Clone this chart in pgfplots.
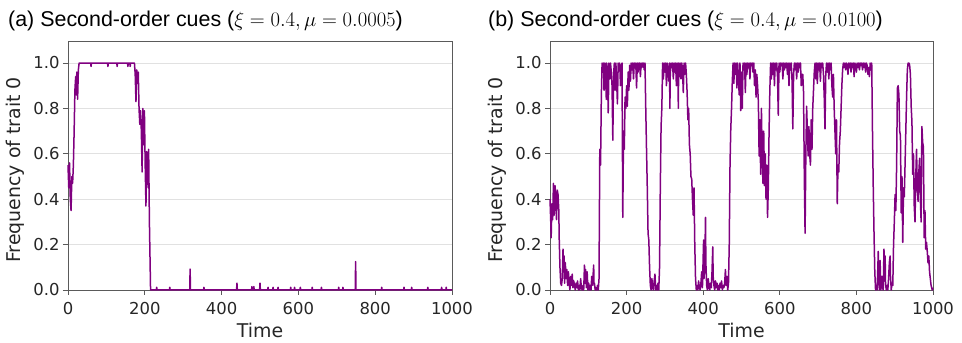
\documentclass[border=0pt]{standalone}
\usepackage[no-math]{fontspec}
\setmainfont{DejaVu Sans}
\newfontfamily\titlefont{Liberation Sans}
\usepackage{pgfplots}
\pgfplotsset{compat=1.18}
\definecolor{traitpurple}{RGB}{128,0,128}
\definecolor{spine}{RGB}{90,90,90}
\definecolor{gridc}{RGB}{225,225,225}
\definecolor{txt}{RGB}{38,38,38}
\pgfplotsset{freqax/.style={
 scale only axis, width=384bp, height=249bp,
 xmin=0,xmax=1000,ymin=0,ymax=1.097,
 xtick={0,200,400,600,800,1000}, xticklabels={0,200,400,600,800,1000},
 ytick={0,0.2,0.4,0.6,0.8,1.0}, yticklabels={0.0,0.2,0.4,0.6,0.8,1.0},
 tick pos=left, tick align=outside, major tick length=5bp,
 ymajorgrids, major grid style={gridc, line width=0.8bp},
 axis line style={spine, line width=0.9bp},
 tick style={spine, line width=0.9bp},
 ticklabel style={font=\fontsize{16.5}{18}\selectfont, text=txt},
 xticklabel style={yshift=-4bp},
 label style={font=\fontsize{19}{21}\selectfont, text=txt},
 xlabel={Time}, ylabel={Frequency of trait 0},
 xlabel style={at={(axis description cs:0.5,0)}, anchor=base, yshift=-47bp},
 ylabel style={at={(axis description cs:-0.138,0.482)}, anchor=center},
 clip=false,
}}
\tikzset{trait/.style={traitpurple, line width=1.5bp, line join=round, mark=none}}
\begin{document}
\begin{tikzpicture}
\useasboundingbox (0,0) rectangle (962bp,343bp);
\node[anchor=base west, inner sep=0] at (8bp,316bp) {\titlefont\fontsize{21.5}{24}\selectfont (a) Second-order cues ($\xi = 0.4, \mu = 0.0005$)};
\node[anchor=base west, inner sep=0] at (488bp,316bp) {\titlefont\fontsize{21.5}{24}\selectfont (b) Second-order cues ($\xi = 0.4, \mu = 0.0100$)};
\begin{axis}[freqax, at={(68bp,53bp)}, anchor=south west]
\addplot[trait] coordinates {
(0,0.55)(2,0.45)(4,0.56)(6,0.40)(8,0.35)(10,0.50)(12,0.47)(14,0.55)(16,0.70)(18,0.88)(20,0.94)(21,0.86)(23,0.96)(25,0.84)(27,0.97)(29,1.0)
(59,1.0)(60,0.985)(61,1.0)(103,1.0)(104,0.985)(105,1.0)(127,1.0)(128,0.985)(129,1.0)(155,1.0)(156,0.985)(157,1.0)(161,1.0)(162,0.985)(163,1.0)
(173,1.0)(175,0.95)(177,0.83)(179,0.97)(181,0.91)(183,0.96)(185,0.80)(187,0.73)(189,0.79)(191,0.70)(193,0.52)(195,0.80)(197,0.64)(199,0.79)(201,0.55)(203,0.37)(205,0.61)(207,0.58)(209,0.45)(210,0.62)(212,0.30)(215,0.0)
(230,0)(231,0.012)(232,0)(264,0)(265,0.012)(266,0)(317,0)(318,0.092)(319,0)(353,0)(354,0.012)(355,0)
(439,0)(440,0.03)(441,0)(478,0)(479,0.015)(480,0)(483,0)(484,0.015)(485,0)(499,0)(500,0.03)(501,0)
(520,0)(521,0.012)(522,0)(533,0)(534,0.012)(535,0)(546,0)(547,0.012)(548,0)(579,0)(580,0.012)(581,0)(589,0)(590,0.012)(591,0)(604,0)(605,0.012)(606,0)
(635,0)(636,0.012)(637,0)(659,0)(660,0.012)(661,0)(704,0)(705,0.012)(706,0)(715,0)(716,0.012)(717,0)(748,0)(749,0.125)(750,0)
(816,0)(817,0.012)(818,0)(874,0)(875,0.012)(876,0)(894,0)(895,0.012)(896,0)(936,0)(937,0.012)(938,0)(972,0)(973,0.012)(974,0)(984,0)(985,0.012)(986,0)(1000,0)
};
\end{axis}
\begin{axis}[freqax, width=383bp, at={(550bp,53bp)}, anchor=south west]
\addplot[trait] coordinates {
(0,0.40)(2,0.30)(3,0.23)(5,0.38)(7,0.31)(9,0.47)(11,0.33)(13,0.46)(15,0.42)(17,0.31)(19,0.44)(21,0.42)(23,0.35)(24,0.23)(26,0.10)(28,0.03)
(30,0.02)(32,0.05)(34,0.18)(35,0.08)(37,0.15)(38,0.03)(40,0.12)(42,0.05)(44,0.09)(46,0.02)(48,0.08)(50,0.03)(52,0.0)(54,0.06)(56,0.02)(58,0.07)(60,0.01)(62,0.04)(64,0.02)(66,0.0)(68,0.03)(70,0.01)(72,0.04)(74,0.0)(76,0.02)(78,0.0)(80,0.05)(82,0.01)(84,0.0)(86,0.02)(88,0.0)(90,0.11)(91,0.03)(93,0.09)(95,0.01)(97,0.08)(99,0.0)(101,0.03)(103,0.0)(105,0.02)(107,0.0)(109,0.06)(110,0.02)(112,0.05)(114,0.11)(115,0.02)(116,0.03)(118,0.0)(120,0.01)(122,0.0)(124,0.02)(126,0.0)
(128,0.05)(130,0.62)(132,0.55)(134,0.85)(136,1.0)
(138,0.96)(140,1.0)(141,0.88)(143,1.0)(145,0.95)(147,0.84)(148,1.0)(150,0.97)(152,0.78)(154,1.0)(156,0.93)(158,1.0)(160,0.96)(162,0.90)(164,0.66)(166,0.95)(168,1.0)(170,0.88)(172,1.0)(174,0.92)(176,0.82)(178,1.0)(180,0.97)(182,1.0)(184,0.90)(186,0.98)(188,1.0)(190,0.32)(192,0.70)(194,0.62)(196,0.85)(198,0.80)(200,0.90)(202,0.81)(204,0.96)(206,0.88)(208,0.99)(210,0.92)(212,1.0)(214,0.97)(216,1.0)(218,0.93)(220,1.0)(222,0.98)(224,1.0)(226,0.89)(228,1.0)(230,0.96)(232,1.0)(234,1.0)(236,0.94)(238,1.0)(240,0.98)(242,1.0)(244,1.0)(246,0.97)(248,1.0)(250,0.80)(252,0.62)(254,0.45)(256,0.25)(258,0.22)(260,0.10)(262,0.02)
(264,0.0)(266,0.05)(268,0.01)(270,0.0)(272,0.04)(274,0.07)(276,0.0)(278,0.02)(280,0.0)(282,0.03)(284,0.0)
(286,0.10)(288,0.45)(290,0.72)(292,0.80)(294,1.0)
(296,0.93)(298,1.0)(300,0.96)(302,1.0)(304,0.90)(306,1.0)(308,0.97)(310,0.92)(312,1.0)(313,0.80)(314,0.95)(316,1.0)(318,0.98)(320,1.0)(322,0.93)(324,1.0)(326,0.96)(328,1.0)(330,0.90)(332,1.0)(334,0.98)(335,0.80)(336,1.0)(338,0.94)(340,1.0)(342,0.93)(344,1.0)(346,0.97)(348,0.87)(350,1.0)(352,0.95)(354,1.0)
(356,0.95)(358,0.87)(360,0.75)(362,0.80)(364,0.64)(366,0.60)(368,0.50)(370,0.49)(372,0.40)(374,0.33)(376,0.45)(378,0.20)(380,0.05)(382,0.0)
(384,0.02)(386,0.0)(388,0.04)(390,0.01)(392,0.0)(394,0.03)(396,0.08)(398,0.01)(400,0.15)(401,0.22)(402,0.05)(404,0.10)(406,0.32)(407,0.12)(409,0.02)(411,0.0)(413,0.05)(415,0.02)(417,0.0)(419,0.03)(421,0.01)(423,0.08)(425,0.19)(426,0.06)(428,0.02)(430,0.0)(432,0.04)(434,0.01)(436,0.03)(438,0.0)(440,0.02)(442,0.0)(444,0.03)(446,0.01)(448,0.04)(450,0.0)(452,0.02)(454,0.01)(456,0.03)(458,0.09)(460,0.02)(462,0.06)(464,0.0)
(466,0.03)(468,0.20)(470,0.55)(472,0.71)(474,0.80)(476,0.92)(478,1.0)
(480,0.91)(482,1.0)(484,0.95)(486,1.0)(488,0.89)(490,1.0)(492,0.93)(494,0.86)(496,1.0)(498,0.79)(500,0.96)(502,0.80)(504,1.0)(506,0.97)(508,1.0)(510,0.87)(512,1.0)(514,0.95)(516,1.0)(518,0.98)(520,1.0)(522,0.93)(524,1.0)(526,0.99)(528,1.0)(530,0.96)(532,1.0)(534,0.90)(536,0.97)(538,0.85)(540,0.95)
(542,0.90)(544,0.83)(546,0.59)(548,0.75)(550,0.51)(552,0.80)(554,0.58)(556,0.47)(558,0.70)(560,0.46)(562,0.60)(564,0.40)(566,0.55)(568,0.32)(570,0.45)(572,0.70)(574,0.88)(576,1.0)
(578,0.93)(580,1.0)(582,0.95)(584,1.0)(586,0.90)(588,1.0)(590,0.97)(592,1.0)(594,0.94)(596,0.77)(598,1.0)(600,0.96)(602,1.0)(604,0.99)(606,1.0)(608,0.93)(610,1.0)(612,0.97)(614,1.0)(616,0.98)(618,1.0)(620,0.95)(622,1.0)(624,0.90)(626,1.0)(628,0.97)(630,1.0)(632,0.92)(634,0.71)(636,0.95)(638,1.0)(640,0.97)(642,1.0)(644,0.93)(646,1.0)(648,0.96)(650,1.0)(652,0.98)(654,1.0)(656,0.90)(658,0.95)
(660,0.95)(662,0.87)(664,0.50)(666,0.25)(668,0.60)(670,0.81)(672,0.70)(674,0.59)(676,0.72)(678,0.60)(680,0.55)(682,0.75)(684,0.62)(686,0.80)(688,0.88)(690,0.96)(692,1.0)
(694,0.93)(696,1.0)(698,0.91)(700,1.0)(702,0.97)(704,1.0)(706,0.92)(708,1.0)(710,0.98)(712,1.0)(714,0.95)(716,0.85)(718,0.71)(720,0.95)(722,1.0)(724,0.96)(726,1.0)(728,0.93)(730,1.0)(732,0.97)(734,1.0)(736,0.90)(738,0.85)(740,0.95)
(742,0.80)(744,0.70)(746,0.60)(748,0.75)(750,0.38)(752,0.55)(754,0.52)(756,0.65)(758,0.70)(760,0.80)(762,0.90)(764,0.97)(766,1.0)
(768,0.98)(770,1.0)(772,0.97)(774,1.0)(776,0.99)(778,0.95)(780,1.0)(782,0.98)(784,1.0)(786,0.96)(788,1.0)(790,0.98)(792,1.0)(794,0.94)(796,1.0)(798,0.99)(800,0.96)(802,1.0)(804,0.98)(806,1.0)(808,0.97)(810,1.0)(812,0.99)(814,1.0)(816,0.97)(818,1.0)(820,0.98)(822,1.0)(824,0.96)(826,1.0)(828,0.99)(830,0.95)(832,0.98)(834,0.94)(836,1.0)(838,0.97)(840,1.0)
(842,0.70)(844,0.45)(846,0.25)(848,0.08)(850,0.0)
(852,0.02)(854,0.0)(856,0.10)(857,0.17)(858,0.05)(860,0.0)(862,0.13)(863,0.03)(864,0.0)(866,0.06)(868,0.01)(870,0.0)(872,0.18)(873,0.04)(874,0.10)(875,0.15)(876,0.03)(878,0.0)(880,0.02)(882,0.0)(884,0.05)(886,0.12)(888,0.15)(889,0.06)(891,0.0)(893,0.03)
(895,0.02)(897,0.20)(899,0.30)(901,0.42)(903,0.35)(905,0.55)(907,0.89)(909,0.90)(911,0.86)(913,0.70)(915,0.68)(917,0.34)(919,0.50)(921,0.21)(923,0.45)(925,0.41)(927,0.55)(929,0.70)(931,0.85)(933,0.97)(935,1.0)(937,1.0)(939,0.99)(941,0.95)(943,0.81)(945,0.74)(947,0.51)(949,0.60)(951,0.37)(953,0.30)(955,0.50)(957,0.62)(959,0.45)(961,0.39)(963,0.52)(965,0.58)(967,0.40)(969,0.30)(971,0.72)(973,0.65)(975,0.63)(977,0.23)(979,0.35)(981,0.18)(983,0.21)(985,0.17)(987,0.12)(989,0.15)(991,0.08)(993,0.05)(995,0.02)(998,0.0)(1000,0.01)
};
\end{axis}
\end{tikzpicture}
\end{document}
